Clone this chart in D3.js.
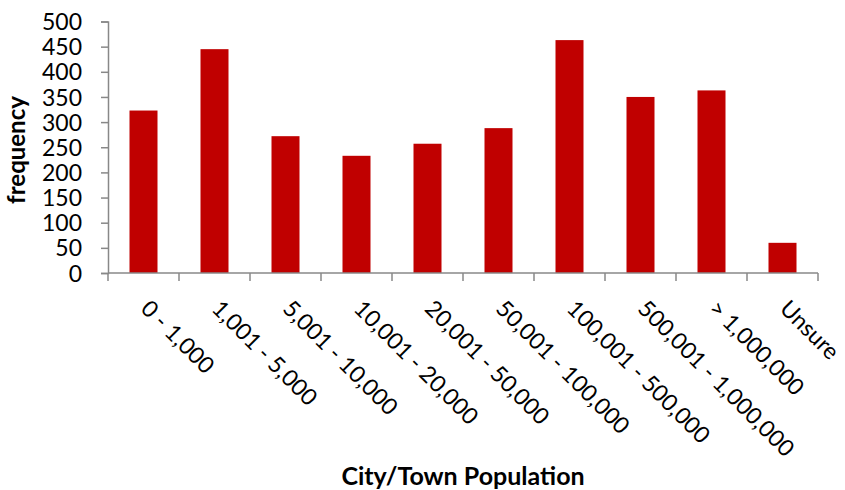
<!DOCTYPE html>
<html><head><meta charset="utf-8">
<script src="https://cdn.jsdelivr.net/npm/d3@7"></script>
<style>body{margin:0;background:#fff}svg{display:block}text{font-family:Lato,"Open Sans",sans-serif;fill:#000}</style>
</head><body>
<svg id="c" width="845" height="490"></svg>
<script>
const categories = ["0 - 1,000","1,001 - 5,000","5,001 - 10,000","10,001 - 20,000","20,001 - 50,000","50,001 - 100,000","100,001 - 500,000","500,001 - 1,000,000","> 1,000,000","Unsure"];
const frequency = [323,445,272,233,257,288,463,350,363,60];
const yTicks = [0,50,100,150,200,250,300,350,400,450,500];

(function(){
const svg = d3.select("#c");
const mLeft = 108, mRight = 818, mTop = 21.5, mBottom = 273;
const xb = d3.scaleBand().domain(categories).range([mLeft,mRight]);
const y = d3.scaleLinear().domain([0,500]).range([mBottom,mTop]);

svg.selectAll("rect.bar").data(categories).join("rect").attr("class","bar")
  .attr("x", d=>xb(d)+xb.bandwidth()/2-14).attr("width",28)
  .attr("y", (d,i)=>y(frequency[i])).attr("height",(d,i)=>mBottom-y(frequency[i]))
  .attr("fill","#c00000");

// y axis
const ya = svg.append("g").attr("transform",`translate(${mLeft},0)`)
  .call(d3.axisLeft(y).tickValues(yTicks).tickSize(7).tickPadding(19).tickFormat(d3.format("d")));
ya.select(".domain").attr("stroke","#888").attr("stroke-width",1.5);
ya.selectAll(".tick line").attr("stroke","#888").attr("stroke-width",1.5);
ya.selectAll(".tick text").attr("font-size",23).attr("fill","#000").attr("dy","0.35em");

// x axis
const boundaries = categories.map(c=>xb(c)).concat([mRight]);
svg.append("line").attr("x1",mLeft).attr("x2",mRight).attr("y1",mBottom).attr("y2",mBottom).attr("stroke","#888").attr("stroke-width",1.5);
svg.selectAll("line.xt").data(boundaries).join("line").attr("class","xt")
  .attr("x1",d=>d).attr("x2",d=>d).attr("y1",mBottom).attr("y2",mBottom+8).attr("stroke","#888").attr("stroke-width",1.5);

svg.selectAll("text.xl").data(categories).join("text").attr("class","xl")
  .attr("transform",d=>`translate(${xb(d)+xb.bandwidth()/2-4},${mBottom+37}) rotate(45)`)
  .attr("font-size",23).attr("text-anchor","start").text(d=>d);

svg.append("text").attr("transform","translate(25,150) rotate(-90)").attr("text-anchor","middle")
  .attr("font-size",24).attr("font-weight","bold").text("frequency");
svg.append("text").attr("x",(mLeft+mRight)/2).attr("y",485).attr("text-anchor","middle")
  .attr("font-size",25).attr("font-weight","bold").text("City/Town Population");
})();
</script>
</body></html>
